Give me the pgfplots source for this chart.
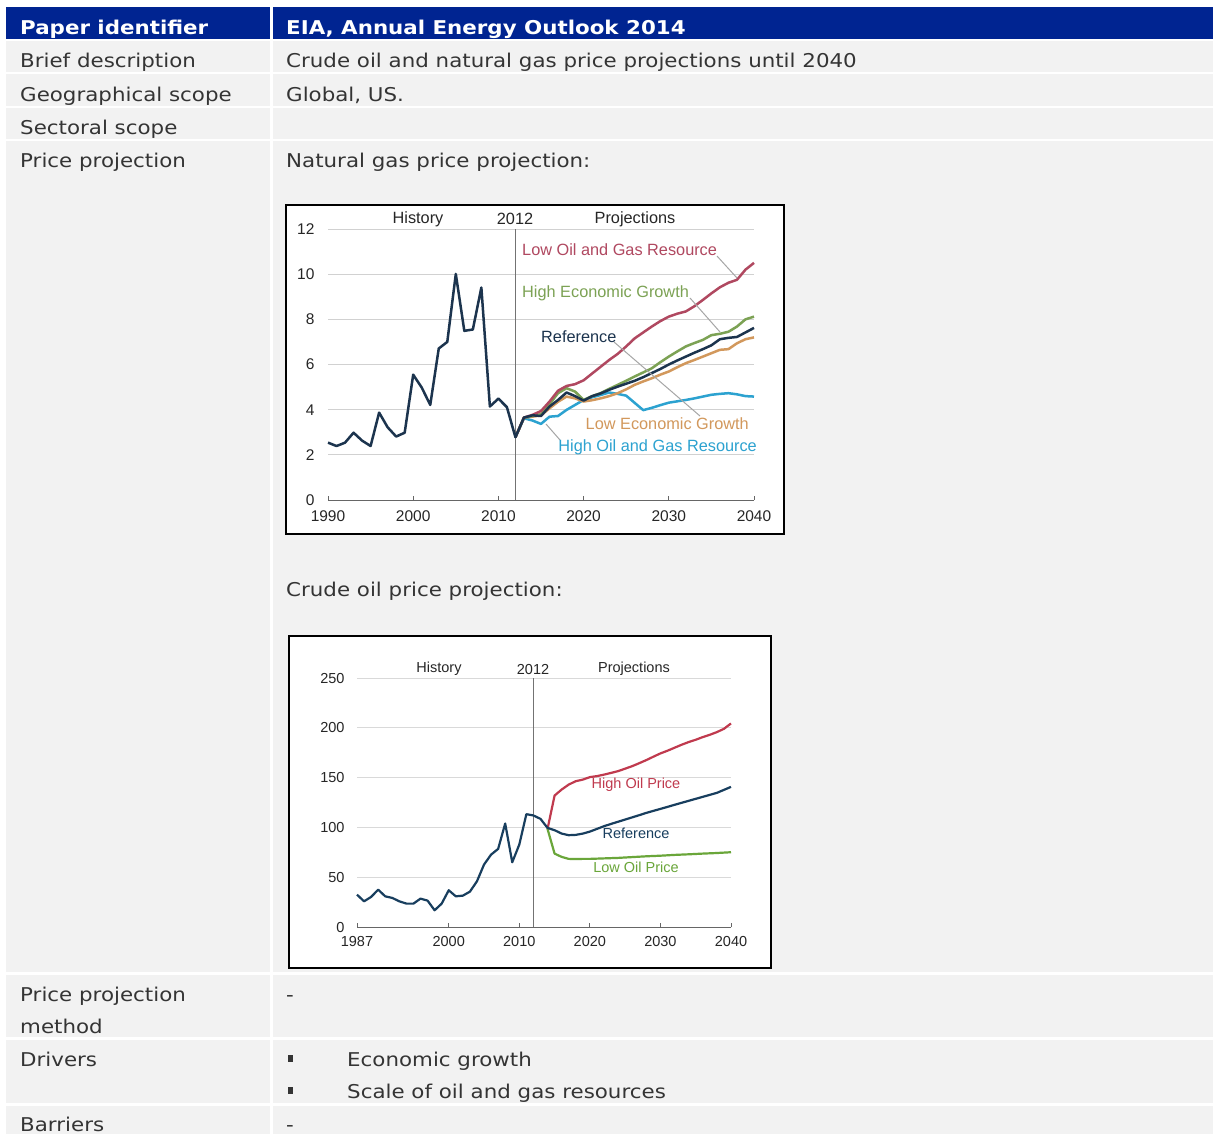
\documentclass[border=0pt]{standalone}
\usepackage{fontspec}
\setmainfont{DejaVu Sans}[FakeStretch=1.125]
\newfontfamily\chartfont{Liberation Sans}
\usepackage{pgfplots}
\pgfplotsset{compat=1.18}

\definecolor{hdrblue}{RGB}{0,36,145}
\definecolor{cellbg}{RGB}{242,242,242}
\definecolor{txt}{RGB}{52,52,52}
% natural gas scenarios
\definecolor{gnavy}{RGB}{28,52,78}
\definecolor{glowres}{RGB}{176,72,96}
\definecolor{ghigheg}{RGB}{124,162,84}
\definecolor{glower}{RGB}{210,152,92}
\definecolor{ghighres}{RGB}{44,162,208}
% crude oil scenarios
\definecolor{onavy}{RGB}{24,62,94}
\definecolor{ored}{RGB}{192,58,78}
\definecolor{ogreen}{RGB}{106,166,58}

\newcommand{\bodyfont}{\fontsize{19}{19}\selectfont\color{txt}}
\newcommand{\gfont}{\chartfont\fontsize{15.5}{15.5}\selectfont}
\newcommand{\glab}{\chartfont\fontsize{16.3}{16.3}\selectfont}
\newcommand{\ofont}{\chartfont\fontsize{14.5}{14.5}\selectfont}

\pgfplotsset{
  eiachart/.style={
    scale only axis, anchor=south west,
    axis x line*=bottom, axis y line*=left,
    y axis line style={draw=none},
    x axis line style={draw=black!60, line width=0.8pt},
    ymajorgrids, grid style={black!18, line width=0.9pt},
    tick align=inside, major tick length=4pt,
    xtick style={draw=black!60, line width=0.8pt},
    ytick style={draw=none},
    /pgf/number format/1000 sep={},
    /pgf/number format/assume math mode=true,
    every axis plot/.append style={line width=2.5pt, no markers, line join=round},
    clip=false,
  }
}

\begin{document}
\begin{tikzpicture}
\useasboundingbox (0pt,0pt) rectangle (1213pt,-1133pt);
\clip (0pt,0pt) rectangle (1213pt,-1133pt);

\begin{scope}[x=1pt,y=-1pt]
  % table cells
  \fill[white] (0,0) rectangle (1213,1133);
  \fill[hdrblue] (6,7) rectangle (270,39);
  \fill[hdrblue] (273,7) rectangle (1213,39);
  \foreach \ya/\yb in {41/72, 74/106, 108/139, 141/972, 975/1037, 1040/1103, 1106/1140} {
    \fill[cellbg] (6,\ya) rectangle (270,\yb);
    \fill[cellbg] (273,\ya) rectangle (1213,\yb);
  }
  % header
  \node[anchor=base west, inner sep=0, text=white, font=\fontsize{19}{19}\selectfont\bfseries] at (20,34) {Paper identifier};
  \node[anchor=base west, inner sep=0, text=white, font=\fontsize{19}{19}\selectfont\bfseries] at (286,34) {EIA, Annual Energy Outlook 2014};
  % rows
  \node[anchor=base west, inner sep=0, font=\bodyfont] at (20,67) {Brief description};
  \node[anchor=base west, inner sep=0, font=\bodyfont] at (286,67) {Crude oil and natural gas price projections until 2040};
  \node[anchor=base west, inner sep=0, font=\bodyfont] at (20,101) {Geographical scope};
  \node[anchor=base west, inner sep=0, font=\bodyfont] at (286,101) {Global, US.};
  \node[anchor=base west, inner sep=0, font=\bodyfont] at (20,134) {Sectoral scope};
  \node[anchor=base west, inner sep=0, font=\bodyfont] at (20,167) {Price projection};
  \node[anchor=base west, inner sep=0, font=\bodyfont] at (286,167) {Natural gas price projection:};
  \node[anchor=base west, inner sep=0, font=\bodyfont] at (286,596) {Crude oil price projection:};
  \node[anchor=base west, inner sep=0, font=\bodyfont] at (20,1001) {Price projection};
  \node[anchor=base west, inner sep=0, font=\bodyfont] at (20,1033) {method};
  \node[anchor=base west, inner sep=0, font=\bodyfont] at (286,1001) {-};
  \node[anchor=base west, inner sep=0, font=\bodyfont] at (20,1066) {Drivers};
  \fill[txt] (288,1055) rectangle (293,1062);
  \node[anchor=base west, inner sep=0, font=\bodyfont] at (347,1066) {Economic growth};
  \fill[txt] (288,1087) rectangle (293,1094);
  \node[anchor=base west, inner sep=0, font=\bodyfont] at (347,1098) {Scale of oil and gas resources};
  \node[anchor=base west, inner sep=0, font=\bodyfont] at (20,1131) {Barriers};
  \node[anchor=base west, inner sep=0, font=\bodyfont] at (286,1131) {-};

  % chart frames
  \draw[black, line width=2pt, fill=white] (286,205) rectangle (784,534);
  \draw[black, line width=2pt, fill=white] (289,636) rectangle (771,968);
\end{scope}

% ---------------- natural gas price ----------------
\begin{axis}[eiachart,
  at={(328pt,-500pt)}, width=426pt, height=271pt,
  xmin=1990, xmax=2040, ymin=0, ymax=12,
  xtick={1990,2000,...,2040}, ytick={0,2,...,12},
  tick label style={font=\gfont, text=black!85},
  yticklabel style={xshift=-10pt},
  xticklabel style={yshift=-7pt},
]
\draw[black!55, line width=1.1pt] (axis cs:2012,0) -- (axis cs:2012,12);
\addplot[color=ghighres] coordinates {
 (2012,2.78) (2013,3.62) (2014,3.52) (2015,3.37) (2016,3.69) (2017,3.72) (2018,3.99)
 (2019,4.21) (2020,4.43) (2021,4.55) (2022,4.65) (2023,4.76) (2024,4.70) (2025,4.62)
 (2026,4.30) (2027,3.98) (2028,4.08) (2029,4.20) (2030,4.31) (2031,4.37) (2032,4.43)
 (2033,4.50) (2034,4.58) (2035,4.66) (2036,4.70) (2037,4.73) (2038,4.68) (2039,4.60) (2040,4.58)};
\addplot[color=glower] coordinates {
 (2012,2.78) (2013,3.65) (2014,3.69) (2015,3.75) (2016,4.06) (2017,4.35) (2018,4.58)
 (2019,4.50) (2020,4.36) (2021,4.42) (2022,4.50) (2023,4.60) (2024,4.73) (2025,4.90)
 (2026,5.10) (2027,5.25) (2028,5.39) (2029,5.55) (2030,5.69) (2031,5.88) (2032,6.06)
 (2033,6.20) (2034,6.35) (2035,6.50) (2036,6.65) (2037,6.68) (2038,6.94) (2039,7.12) (2040,7.20)};
\addplot[color=ghigheg] coordinates {
 (2012,2.78) (2013,3.65) (2014,3.72) (2015,3.80) (2016,4.24) (2017,4.73) (2018,4.95)
 (2019,4.80) (2020,4.43) (2021,4.60) (2022,4.73) (2023,4.92) (2024,5.10) (2025,5.28)
 (2026,5.47) (2027,5.65) (2028,5.83) (2029,6.10) (2030,6.35) (2031,6.58) (2032,6.80)
 (2033,6.95) (2034,7.09) (2035,7.30) (2036,7.36) (2037,7.45) (2038,7.68) (2039,8.00) (2040,8.12)};
\addplot[color=glowres] coordinates {
 (2012,2.78) (2013,3.65) (2014,3.77) (2015,3.94) (2016,4.36) (2017,4.84) (2018,5.05)
 (2019,5.13) (2020,5.30) (2021,5.60) (2022,5.90) (2023,6.20) (2024,6.47) (2025,6.80)
 (2026,7.16) (2027,7.42) (2028,7.68) (2029,7.92) (2030,8.12) (2031,8.25) (2032,8.35)
 (2033,8.58) (2034,8.86) (2035,9.15) (2036,9.42) (2037,9.62) (2038,9.75) (2039,10.20) (2040,10.50)};
% history and reference
\addplot[color=gnavy] coordinates {
 (1990,2.54) (1991,2.39) (1992,2.54) (1993,2.98) (1994,2.63) (1995,2.39) (1996,3.87)
 (1997,3.22) (1998,2.81) (1999,2.98) (2000,5.55) (2001,4.98) (2002,4.21) (2003,6.71)
 (2004,7.00) (2005,10.01) (2006,7.49) (2007,7.55) (2008,9.41) (2009,4.14) (2010,4.49)
 (2011,4.11) (2012,2.78) (2013,3.65) (2014,3.75) (2015,3.72) (2016,4.14) (2017,4.43)
 (2018,4.76) (2019,4.60) (2020,4.40) (2021,4.60) (2022,4.72) (2023,4.88) (2024,5.02)
 (2025,5.15) (2026,5.28) (2027,5.44) (2028,5.62) (2029,5.80) (2030,6.00) (2031,6.18)
 (2032,6.35) (2033,6.52) (2034,6.68) (2035,6.85) (2036,7.12) (2037,7.18) (2038,7.22)
 (2039,7.42) (2040,7.62)};
\end{axis}

% ---------------- crude oil price ----------------
\begin{axis}[eiachart,
  at={(357pt,-927pt)}, width=374pt, height=249pt,
  xmin=1987, xmax=2040, ymin=0, ymax=250,
  xtick={1987,2000,2010,2020,2030,2040}, ytick={0,50,...,250},
  grid style={black!15, line width=0.8pt},
  tick label style={font=\ofont, text=black!85},
  yticklabel style={xshift=-9pt},
  xticklabel style={yshift=-6pt},
  every axis plot/.append style={line width=2.2pt},
]
\draw[black!55, line width=1.1pt] (axis cs:2012,0) -- (axis cs:2012,250);
\addplot[color=ogreen] coordinates {
 (2014,98.5) (2015,73.7) (2016,70.4) (2017,68.4) (2018,68.3) (2019,68.4) (2020,68.4)
 (2022,68.9) (2024,69.4) (2026,70.2) (2028,71.0) (2030,71.6) (2032,72.4) (2034,73.0)
 (2036,73.7) (2038,74.3) (2040,75.1)};
\addplot[color=ored] coordinates {
 (2014,98.5) (2015,132) (2016,138) (2017,143) (2018,146.4) (2019,148) (2020,150.5)
 (2021,151.5) (2022,153) (2023,154.7) (2024,156.5) (2025,159) (2026,161.5) (2027,164.5)
 (2028,167.6) (2029,171) (2030,174.3) (2031,177) (2032,180) (2033,183) (2034,185.7)
 (2035,188) (2036,190.7) (2037,193) (2038,195.7) (2039,199) (2040,204.4)};
% history and reference
\addplot[color=onavy] coordinates {
 (1987,32.5) (1988,25.8) (1989,30.2) (1990,37.5) (1991,30.8) (1992,29.2) (1993,25.8)
 (1994,23.5) (1995,23.5) (1996,28.5) (1997,26.5) (1998,16.8) (1999,23.5) (2000,36.9)
 (2001,30.8) (2002,31.5) (2003,35.5) (2004,45.9) (2005,62.7) (2006,72.7) (2007,78.4)
 (2008,103.9) (2009,65.0) (2010,82.8) (2011,113.3) (2012,112.0) (2013,108.6) (2014,99.5)
 (2015,97.2) (2016,93.8) (2017,92.2) (2018,92.5) (2019,93.8) (2020,95.8) (2021,98.5)
 (2022,101.2) (2023,103.5) (2024,105.7) (2025,107.9) (2026,110.1) (2027,112.3) (2028,114.6)
 (2029,116.6) (2030,118.6) (2031,120.6) (2032,122.7) (2033,124.7) (2034,126.7) (2035,128.7)
 (2036,130.7) (2037,132.7) (2038,134.7) (2039,137.7) (2040,140.7)};
\end{axis}

% chart annotations and label leader lines
\begin{scope}[x=1pt,y=-1pt, every node/.style={inner sep=0}]
  \node[font=\glab, text=black!85] at (418,219) {History};
  \node[font=\glab, text=black!85] at (515,219) {2012};
  \node[font=\glab, text=black!85] at (635,219) {Projections};
  \draw[black!35, line width=1pt] (717,256) -- (737,278);
  \draw[black!35, line width=1pt] (690,298) -- (720,332);
  \draw[black!35, line width=1pt] (614,342) -- (700,416);
  \draw[black!35, line width=1pt] (546,424) -- (560,440);
  \node[font=\glab, text=glowres, anchor=west] at (522,250) {Low Oil and Gas Resource};
  \node[font=\glab, text=ghigheg, anchor=west] at (522,293) {High Economic Growth};
  \node[font=\glab, text=gnavy, anchor=west] at (541,337) {Reference};
  \node[font=\glab, text=glower, anchor=east] at (749,424) {Low Economic Growth};
  \node[font=\glab, text=ghighres, anchor=east] at (757,447) {High Oil and Gas Resource};

  \node[font=\ofont, text=black!85] at (439,669) {History};
  \node[font=\ofont, text=black!85] at (533,669) {2012};
  \node[font=\ofont, text=black!85] at (634,669) {Projections};
  \node[font=\ofont, text=ored] at (636,785) {High Oil Price};
  \node[font=\ofont, text=onavy] at (636,833) {Reference};
  \node[font=\ofont, text=ogreen] at (636,867) {Low Oil Price};
\end{scope}
\end{tikzpicture}
\end{document}
